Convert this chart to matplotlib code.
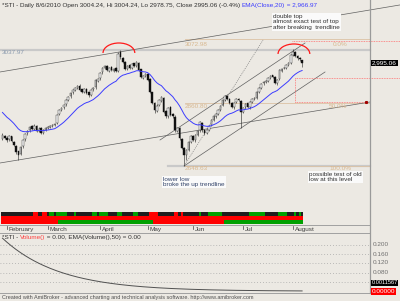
import numpy as np
import pandas as pd
import matplotlib
matplotlib.use("Agg")
import matplotlib.pyplot as plt
from matplotlib.patches import Arc
from matplotlib.lines import Line2D

W, H = 400, 301
BG = "#ECE9E3"
FONT = ["Liberation Sans Narrow", "Liberation Sans", "DejaVu Sans"]
FS = 4.6

# daily bars, 28 Jan 2010 .. 6 Aug 2010 (index 0..132)
month_labels = ["February", "March", "April", "May", "Jun", "Jul", "August"]
month_bars = [2, 20, 43, 64, 84, 106, 128]

opens = [2740, 2750, 2744, 2738, 2748, 2730, 2716, 2698, 2690, 2714,
         2738, 2758, 2768, 2782, 2772, 2784, 2765, 2775, 2760, 2770,
         2777, 2780, 2784, 2787, 2792, 2822, 2837, 2845, 2855, 2871,
         2882, 2895, 2904, 2911, 2918, 2905, 2898, 2908, 2895, 2887,
         2905, 2912, 2935, 2942, 2962, 2978, 2985, 2968, 2979, 2968,
         2976, 2968, 3030, 3012, 2997, 2974, 2986, 2978, 2992, 2983,
         2995, 2972, 2945, 2951, 2958, 2940, 2895, 2858, 2834, 2852,
         2868, 2878, 2833, 2815, 2845, 2822, 2814, 2766, 2775, 2740,
         2708, 2684, 2703, 2730, 2748, 2735, 2754, 2768, 2794, 2768,
         2760, 2770, 2785, 2804, 2815, 2824, 2837, 2852, 2871, 2884,
         2872, 2859, 2845, 2862, 2874, 2868, 2829, 2845, 2858, 2845,
         2864, 2874, 2878, 2898, 2911, 2925, 2931, 2934, 2945, 2952,
         2948, 2925, 2940, 2968, 2976, 2978, 2988, 2995, 3022, 3032,
         3018, 3012, 3004.24]
highs = [2758, 2754, 2748, 2753, 2750, 2733, 2718, 2700, 2716, 2740,
         2760, 2770, 2784, 2786, 2788, 2787, 2778, 2778, 2773, 2780,
         2783, 2787, 2790, 2794, 2824, 2840, 2847, 2857, 2874, 2884,
         2897, 2907, 2914, 2921, 2922, 2908, 2911, 2911, 2898, 2906,
         2914, 2941, 2945, 2964, 2981, 2988, 2988, 2981, 2982, 2977,
         2979, 3029, 3037.97, 3015, 3000, 2988, 2989, 2994, 2995, 3001,
         2998, 2975, 2954, 2961, 2961, 2943, 2898, 2862, 2855, 2874,
         2884, 2881, 2836, 2847, 2848, 2825, 2818, 2780, 2778, 2743,
         2711, 2706, 2733, 2753, 2751, 2757, 2770, 2800, 2797, 2772,
         2773, 2787, 2807, 2820, 2827, 2840, 2854, 2874, 2887, 2888,
         2876, 2862, 2864, 2877, 2878, 2871, 2847, 2860, 2861, 2867,
         2877, 2880, 2900, 2914, 2927, 2934, 2937, 2947, 2954, 2955,
         2950, 2941, 2974, 2978, 2981, 2991, 2998, 3024, 3040, 3035,
         3021, 3014, 3004.24]
lows = [2736, 2738, 2730, 2734, 2728, 2714, 2690, 2670, 2686, 2710,
        2734, 2754, 2764, 2768, 2769, 2762, 2761, 2755, 2756, 2766,
        2773, 2777, 2780, 2783, 2788, 2818, 2833, 2841, 2851, 2867,
        2878, 2891, 2900, 2907, 2899, 2892, 2894, 2889, 2881, 2883,
        2901, 2908, 2931, 2938, 2958, 2974, 2966, 2964, 2966, 2964,
        2962, 2964, 3008, 2994, 2970, 2970, 2973, 2974, 2980, 2979,
        2966, 2942, 2940, 2947, 2933, 2893, 2855, 2826, 2830, 2848,
        2864, 2826, 2808, 2811, 2815, 2810, 2762, 2762, 2736, 2704,
        2648.63, 2670, 2698, 2726, 2731, 2730, 2750, 2764, 2764, 2754,
        2756, 2766, 2781, 2800, 2811, 2820, 2833, 2848, 2867, 2869,
        2856, 2842, 2841, 2858, 2865, 2776, 2825, 2841, 2842, 2841,
        2860, 2870, 2874, 2894, 2907, 2921, 2927, 2930, 2941, 2943,
        2922, 2921, 2936, 2964, 2972, 2974, 2984, 2991, 3018, 3013,
        3005, 3000, 2978.75]
closes = [2752, 2742, 2736, 2749, 2732, 2719, 2696, 2686, 2712, 2736,
          2756, 2766, 2779, 2773, 2783, 2766, 2773, 2759, 2769, 2776,
          2779, 2783, 2786, 2789, 2820, 2836, 2843, 2853, 2870, 2880,
          2893, 2903, 2910, 2917, 2903, 2897, 2907, 2893, 2886, 2903,
          2910, 2937, 2940, 2960, 2977, 2984, 2970, 2977, 2970, 2974,
          2967, 3025, 3013, 2998, 2975, 2984, 2977, 2990, 2984, 2997,
          2970, 2947, 2950, 2957, 2937, 2897, 2860, 2836, 2850, 2870,
          2880, 2830, 2816, 2843, 2820, 2816, 2769, 2776, 2742, 2709,
          2686, 2702, 2729, 2749, 2736, 2753, 2766, 2796, 2769, 2759,
          2769, 2783, 2803, 2816, 2823, 2836, 2850, 2870, 2883, 2873,
          2860, 2846, 2860, 2873, 2870, 2830, 2843, 2856, 2846, 2863,
          2873, 2876, 2897, 2910, 2923, 2930, 2933, 2943, 2950, 2947,
          2927, 2937, 2970, 2974, 2977, 2987, 2994, 3020, 3030, 3017,
          3010, 3007, 2995.06]
volume = [0.0] * len(closes)   # index has no volume

ema_seed = 2836          # EMA(Close,20) value at the left edge
vol_ema_seed = 0.2365    # EMA(Volume(),50) value at the left edge

# colour ribbons (run lengths per bar)
ribbon_top = [("k", 14), ("r", 2), ("k", 2), ("r", 2), ("k", 1), ("g", 2), ("k", 1),
              ("g", 5), ("k", 3), ("g", 1), ("k", 7), ("g", 2), ("k", 1), ("g", 4),
              ("k", 4), ("g", 2), ("k", 5), ("g", 2), ("k", 5), ("r", 4), ("k", 7),
              ("r", 2), ("k", 1), ("r", 1), ("k", 7), ("g", 1), ("k", 3), ("g", 6),
              ("k", 12), ("g", 7), ("k", 6), ("g", 4), ("k", 3), ("g", 1), ("k", 1),
              ("g", 1), ("k", 1)]
ribbon_bottom = [("r", 25), ("g", 42), ("r", 31), ("g", 35)]

fib_levels = [3072.98, 2860.80, 2648.63]
fib_pcts = ["0.0%", "50.0%", "100.0%"]
top_level = 3037.97

# hand drawn trendlines: (bar, price) -> (bar, price)
trendlines = [((-1.1, 2963.5), (175.1, 3188.0)),
              ((-1.1, 2658.7), (161.9, 2863.0)),
              ((80.0, 2648.63), (142.1, 2963.5)),
              ((69.4, 2735.7), (133.3, 3060.6))]
dotted_line = ((80.0, 2648.63), (114.8, 3070.6))
arcs = [(51.3, 3027.1), (128.4, 3023.8)]   # red arcs over the two tops


def bar_x(px):
    return 2 + (px - 7) / 2.27


def px_price(py):
    return 3072.98 - (py - 39.3) * 3.349


def ftext(px, py, s, **kw):
    kw.setdefault("fontsize", FS)
    kw.setdefault("family", FONT)
    kw.setdefault("va", "center")
    return fig.text(px / W, 1 - py / H, s, **kw)


def colored_line(px, py, parts):
    r = fig.canvas.get_renderer()
    x = px
    for s, c in parts:
        t = ftext(x, py, s, color=c)
        x += t.get_window_extent(r).width


def expand(runs):
    out = []
    for c, n in runs:
        out += [c] * n
    return out


fig = plt.figure(figsize=(W / 100, H / 100), dpi=100, facecolor=BG)

# ---------------- price pane ----------------
ax = fig.add_axes([0, 1 - 225 / H, 1, 225 / H])
ax.set_axis_off()
ax.set_xlim(bar_x(0), bar_x(W))
ax.set_ylim(px_price(225), px_price(0))

idx = np.arange(len(closes))
o = np.array(opens); h = np.array(highs); l = np.array(lows); c = np.array(closes)

# horizontal study lines
ax.plot([bar_x(0), bar_x(370)], [top_level] * 2, color="#C9C9C9", lw=1.6, zorder=1)
ax.plot([bar_x(168), bar_x(370)], [fib_levels[2]] * 2, color="#C9C9C9", lw=1.6, zorder=1)
for lev in fib_levels:
    ax.plot([bar_x(185), bar_x(370)], [lev, lev], color="#DCC2A4", lw=0.6, zorder=1)

for (x0, y0), (x1, y1) in trendlines:
    ax.plot([x0, x1], [y0, y1], color="#606060", lw=0.5, zorder=2)
(x0, y0), (x1, y1) = dotted_line
ax.plot([x0, x1], [y0, y1], color="#808080", lw=0.5, ls=(0, (1.5, 1.5)), zorder=2)
ax.plot([bar_x(366)], [px_price(102)], "s", color="#A00000", ms=1.2, zorder=3)

# red dotted box
rd = dict(color="#FF7070", lw=0.6, ls=(0, (1, 1)), zorder=2)
ax.plot([bar_x(292), bar_x(400)], [px_price(41)] * 2, **rd)
ax.plot([bar_x(295), bar_x(400)], [px_price(78)] * 2, **rd)
ax.plot([bar_x(295), bar_x(367)], [px_price(102)] * 2, **rd)
ax.plot([bar_x(295)] * 2, [px_price(78), px_price(102)], **rd)

# candles
ax.vlines(idx, l, h, color="#202020", lw=0.4, zorder=4)
up = c >= o
ax.bar(idx[up], (c - o)[up], bottom=o[up], width=0.7, color="white",
       edgecolor="#202020", lw=0.3, zorder=5)
ax.bar(idx[~up], (o - c)[~up], bottom=c[~up], width=0.7, color="#101010",
       edgecolor="#101010", lw=0.3, zorder=5)

ema = pd.Series([ema_seed] + closes).ewm(span=20, adjust=False).mean().iloc[1:]
ax.plot(idx, ema.values, color="#3C3CFF", lw=0.7, zorder=6)

for bx, by in arcs:
    ax.add_patch(Arc((bx, by), 14, 67, theta1=0, theta2=180, color="#FF1A1A", lw=0.9, zorder=7))

# ribbon at the bottom of the pane
cmap = {"k": "#1E1E1E", "r": "#FF0000", "g": "#00A000"}
tr = ax.get_xaxis_transform()
top_cols = [cmap[k] for k in expand(ribbon_top)]
bot_cols = [cmap[k] for k in expand(ribbon_bottom)]
ax.bar(idx, 3.5 / 225, bottom=1 - 215.5 / 225, width=1.0, color=top_cols, lw=0, transform=tr)
ax.bar(idx, 4.5 / 225, bottom=1 - 220 / 225, width=1.0, color="#FF0000", lw=0, transform=tr)
ax.bar(idx, 4 / 225, bottom=1 - 224 / 225, width=1.0, color=bot_cols, lw=0, transform=tr)

# ---------------- volume pane ----------------
av = fig.add_axes([0, 1 - 293 / H, 1, 60 / H])
av.set_axis_off()
av.set_xlim(bar_x(0), bar_x(W))
vv = lambda py: (291.2 - py) * 0.004286
av.set_ylim(vv(293), vv(233))
for g in [0.04, 0.08, 0.12, 0.16, 0.20]:
    av.plot([bar_x(0), bar_x(370)], [g, g], color="#A8A8A8", lw=0.6, ls=(0, (1, 2.5)))
vol_ema = pd.Series([vol_ema_seed] + volume).ewm(span=50, adjust=False).mean().iloc[1:]
av.plot(idx, vol_ema.values, color="#505050", lw=0.7)

# frame lines
for y in [225, 233, 293]:
    fig.add_artist(Line2D([0, 370 / W], [1 - y / H] * 2, color="#A0A0A0", lw=0.7))
fig.add_artist(Line2D([370 / W] * 2, [1 - 293 / H, 1], color="#9A9A9A", lw=0.9))

# ---------------- text ----------------
colored_line(2, 5, [("*STI - Daily 8/6/2010 Open 3004.24, Hi 3004.24, Lo 2978.75, "
                     "Close 2995.06 (-0.4%) ", "#303030"),
                    ("EMA(Close,20)", "#3C3CFF"), (" = 2,966.97", "#3C3CFF")])
ftext(2, 53, "3037.97", color="#8A9AAE")
ftext(185, 44, "3072.98", color="#D8B890")
ftext(185, 106, "2860.80", color="#D8B890")
ftext(185, 169, "2648.63", color="#D8B890")
for pct, py in zip(fib_pcts, [44, 107, 169]):
    ftext(333 if pct == "0.0%" else 329, py, pct, color="#D8B890")

box = dict(facecolor="#FAFAFA", edgecolor="none", pad=0.8)
ftext(273, 22, "double top\nalmost exact test of top\nafter breaking  trendline",
      color="#303030", bbox=box, linespacing=1.05)
ftext(163, 182, "lower low\nbroke the up trendline", color="#33446A", bbox=box, linespacing=1.05)
ftext(309, 177, "possible test of old\nlow at this level", color="#303030", bbox=box, linespacing=1.05)

ftext(372, 63, "2,995.06", color="white",
      bbox=dict(facecolor="black", edgecolor="none", pad=0.6))

for lab, b in zip(month_labels, month_bars):
    px = 7 + (b - 2) * 2.27
    fig.add_artist(Line2D([px / W] * 2, [1 - 226 / H, 1 - 229 / H], color="#404040", lw=0.5))
    ftext(px + 1.5, 229.5, lab, color="#404040")

colored_line(2, 237.5, [("*STI - ", "#303030"), ("Volume()", "#FF4040"),
                        (" = 0.00, EMA(Volume(),50) = 0.00", "#303030")])
for lab, py in zip(["0.200", "0.160", "0.120", "0.080"], [245, 254, 263, 272.5]):
    ftext(373, py, lab, color="#707070")
ftext(371.5, 283, "0.0011567", color="white", fontsize=4.1,
      bbox=dict(facecolor="black", edgecolor="none", pad=0.5))
ftext(372, 291.5, "0.00000", color="white", bbox=dict(facecolor="#FF0000", edgecolor="none", pad=0.6))
ftext(2, 297.5, "Created with AmiBroker - advanced charting and technical analysis software. "
      "http://www.amibroker.com", color="#505050", fontsize=4.0)

fig.savefig("out.png", dpi=100, facecolor=BG)
